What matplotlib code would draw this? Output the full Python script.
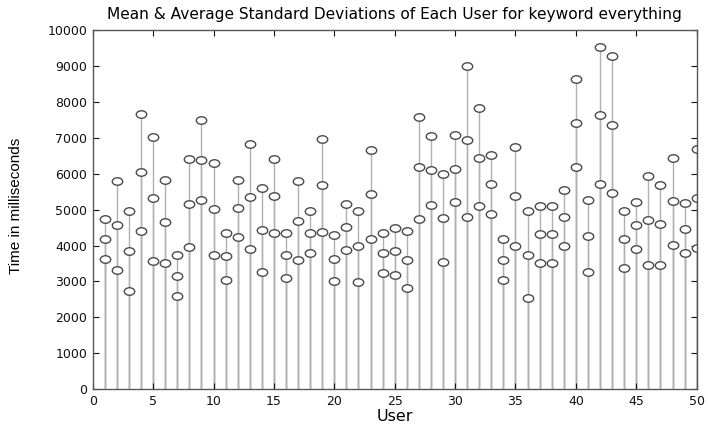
import numpy as np
import matplotlib
matplotlib.use("Agg")
import matplotlib.pyplot as plt
from matplotlib.path import Path
from matplotlib.transforms import Affine2D

users = list(range(1, 51))
upper = [4740, 5800, 4960, 7660, 7030, 5820, 3740, 6410, 7490, 6310,
         4350, 5820, 6820, 5590, 6410, 4360, 5810, 4970, 6980, 4290,
         5170, 4970, 6660, 4360, 4490, 4400, 7580, 7050, 5990, 7080,
         9010, 7840, 6520, 4180, 6750, 4970, 5100, 5090, 5560, 8630,
         5280, 9520, 9280, 4960, 5220, 5940, 5680, 6450, 5190, 6690]
mean = [4180, 4580, 3840, 6040, 5310, 4650, 3160, 5160, 6370, 5010,
        3720, 5050, 5350, 4430, 5380, 3740, 4680, 4360, 5680, 3620,
        4510, 3980, 5430, 3800, 3850, 3590, 6180, 6100, 4780, 6140,
        6940, 6450, 5700, 3610, 5390, 3750, 4310, 4310, 4800, 7400,
        4260, 7630, 7370, 4180, 4570, 4710, 4600, 5240, 4460, 5330]
lower = [3620, 3330, 2740, 4410, 3570, 3500, 2590, 3950, 5260, 3740,
         3040, 4240, 3890, 3270, 4340, 3100, 3590, 3780, 4380, 3010,
         3870, 2990, 4170, 3240, 3180, 2830, 4730, 5130, 3530, 5220,
         4800, 5110, 4870, 3040, 3990, 2540, 3500, 3500, 3990, 6190,
         3270, 5710, 5450, 3380, 3900, 3470, 3470, 4010, 3800, 3940]

title = "Mean & Average Standard Deviations of Each User for keyword everything"
xlabel = "User"
ylabel = "Time in milliseconds"

plt.rcParams['font.family'] = ['DejaVu Sans']

fig = plt.figure(figsize=(7.08, 4.30), dpi=100)
ax = fig.add_axes([0.131, 0.095, 0.853, 0.835])

ell = Path.unit_circle().transformed(Affine2D().scale(1.0, 0.72))

for series in (upper, mean, lower):
    ax.vlines(users, 0, series, colors="#b0b0b0", linewidth=1.0, zorder=1)
    ax.plot(users, series, linestyle="none", marker=ell, markersize=7.5,
            markerfacecolor="white", markeredgecolor="#4a4a4a",
            markeredgewidth=1.0, zorder=2)

ax.set_xlim(0, 50)
ax.set_ylim(0, 10000)
ax.set_xticks(range(0, 51, 5))
ax.set_yticks(range(0, 10001, 1000))
ax.tick_params(direction="in", top=True, right=True, length=4,
               labelsize=9, colors="#111111", pad=4)
for s in ax.spines.values():
    s.set_color("#555555")
    s.set_linewidth(1.0)

ax.set_title(title, fontsize=11.1, pad=8)
ax.set_xlabel(xlabel, fontsize=11.5, labelpad=1)
ax.set_ylabel(ylabel, fontsize=11, family=['Liberation Sans', 'DejaVu Sans'])
ax.yaxis.set_label_coords(-0.115, 0.51)

fig.savefig("out.png", dpi=100)
